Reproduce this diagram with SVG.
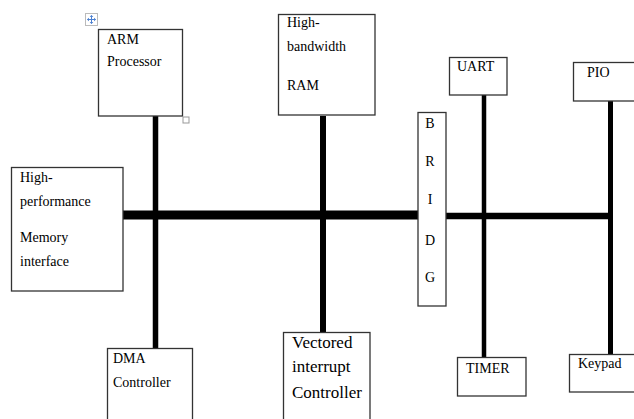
<svg xmlns="http://www.w3.org/2000/svg" width="634" height="419" viewBox="0 0 634 419">
<style>
.box{fill:#fff;stroke:#333;stroke-width:1.3}
text{font-family:'Liberation Serif','Times New Roman',Times,serif;font-size:14px;fill:#000}
.big{font-size:17px}
.bus{stroke:#000;fill:none}
</style>
<rect width="634" height="419" fill="#fff"/>
<g id="connectors">
<line class="bus" x1="123" y1="215" x2="418" y2="215" stroke-width="9"/>
<line class="bus" x1="446" y1="216" x2="613" y2="216" stroke-width="6.5"/>
<line class="bus" x1="155.5" y1="116" x2="155.5" y2="352" stroke-width="5.5"/>
<line class="bus" x1="323" y1="116" x2="323" y2="333" stroke-width="6"/>
<line class="bus" x1="484" y1="95" x2="484" y2="358" stroke-width="4.5"/>
<line class="bus" x1="610.5" y1="101" x2="610.5" y2="355" stroke-width="5"/>
</g>
<g id="arm">
<rect class="box" x="98.5" y="29.5" width="84" height="86.5"/>
<rect x="183" y="117" width="6" height="6" fill="#fff" stroke="#999" stroke-width="1"/>
<text x="107" y="44">ARM</text>
<text x="107" y="66">Processor</text>
</g>
<g id="move-icon">
<rect x="85.5" y="13.5" width="12" height="12" fill="#fff" stroke="#bbb" stroke-width="1"/>
<path d="M91.5 15.5V23.5M87.5 19.5H95.5" stroke="#4a7fd0" stroke-width="1"/>
<path d="M91.5 15l-1.8 2h3.6zM91.5 24l-1.8-2h3.6zM87 19.5l2-1.8v3.6zM96 19.5l-2-1.8v3.6z" fill="#4a7fd0"/>
</g>
<g id="ram">
<rect class="box" x="278.5" y="14.5" width="96.5" height="100.5"/>
<text x="287" y="27">High-</text>
<text x="287" y="51">bandwidth</text>
<text x="287" y="90">RAM</text>
</g>
<g id="memory">
<rect class="box" x="11.5" y="167.5" width="111.5" height="123.5"/>
<text x="20" y="182">High-</text>
<text x="20" y="206">performance</text>
<text x="20" y="242">Memory</text>
<text x="20" y="266">interface</text>
</g>
<g id="bridge">
<rect class="box" x="418" y="112.5" width="28" height="193.5"/>
<text x="430" y="128" text-anchor="middle">B</text>
<text x="430" y="166" text-anchor="middle">R</text>
<text x="430" y="204" text-anchor="middle">I</text>
<text x="430" y="245" text-anchor="middle">D</text>
<text x="430" y="282" text-anchor="middle">G</text>
</g>
<g id="uart">
<rect class="box" x="449.5" y="57.5" width="57.5" height="37.5"/>
<text x="457" y="71">UART</text>
</g>
<g id="pio">
<rect class="box" x="573.5" y="62.5" width="62" height="38.5"/>
<text x="587" y="77">PIO</text>
</g>
<g id="dma">
<rect class="box" x="107.5" y="348.5" width="85" height="75"/>
<text x="113" y="363">DMA</text>
<text x="113" y="387">Controller</text>
</g>
<g id="vic">
<rect class="box" x="283.5" y="332.5" width="86.5" height="90"/>
<text class="big" x="292" y="348">Vectored</text>
<text class="big" x="292" y="372">interrupt</text>
<text class="big" x="292" y="398">Controller</text>
</g>
<g id="timer">
<rect class="box" x="457.5" y="357.5" width="68.5" height="38.5"/>
<text x="466" y="373">TIMER</text>
</g>
<g id="keypad">
<rect class="box" x="569.5" y="354.5" width="66" height="37.5"/>
<text x="578" y="368">Keypad</text>
</g>
</svg>
